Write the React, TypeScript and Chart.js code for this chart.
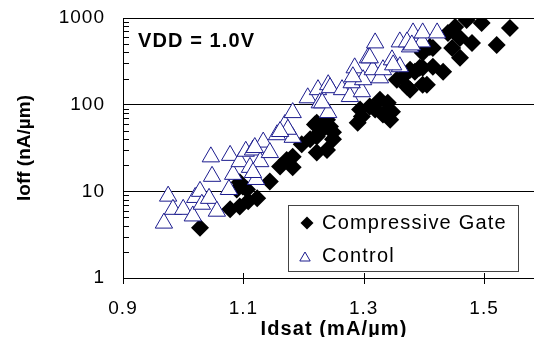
import React, { useEffect, useRef } from "react";
import { Chart, registerables } from "chart.js";

Chart.register(...registerables);

// ---- data ----
const idsatTicks = [0.9, 1.1, 1.3, 1.5];
const ioffTicks = [1, 10, 100, 1000];
const seriesNames = ["Compressive Gate", "Control"];
const annotationText = "VDD = 1.0V";
const xTitle = "Idsat (mA/µm)";
const yTitle = "Ioff (nA/µm)";

const compIdsat = [
  1.028, 1.078, 1.094, 1.108, 1.123, 1.089, 1.106, 1.094, 1.099, 1.144, 1.161, 1.182, 1.172, 1.182,
  1.197, 1.211, 1.222, 1.239, 1.249, 1.231, 1.222, 1.244, 1.219, 1.227, 1.222, 1.239, 1.249, 1.29,
  1.297, 1.294, 1.31, 1.319, 1.327, 1.332, 1.344, 1.34, 1.347, 1.355, 1.365, 1.377, 1.372, 1.385,
  1.393, 1.398, 1.41, 1.415, 1.398, 1.415, 1.432, 1.398, 1.377, 1.405, 1.44, 1.452, 1.46, 1.471,
  1.48, 1.496, 1.46, 1.521, 1.543, 1.447,
];
const compIoff = [
  3.8, 6.2, 6.7, 7.7, 8.3, 10.5, 10.5, 12.7, 11.4, 13, 19.4, 18.9, 23, 25,
  35, 40, 28, 30, 40, 52, 43, 56, 59, 48, 62, 67, 48, 62,
  73, 88, 95, 88, 114, 77, 67, 105, 83, 194, 210, 253, 161, 240,
  266, 396, 464, 452, 266, 274, 240, 170, 149, 170, 673, 788, 589, 948,
  516, 877, 347, 489, 767, 452,
];

const ctrlIdsat = [
  0.968, 0.975, 0.983, 1.0, 1.016, 1.02, 1.028, 1.031, 1.043, 1.056, 1.048, 1.046, 1.078, 1.076,
  1.083, 1.094, 1.104, 1.111, 1.116, 1.121, 1.128, 1.133, 1.144, 1.156, 1.182, 1.119, 1.169, 1.182,
  1.174, 1.207, 1.224, 1.227, 1.241, 1.244, 1.241, 1.264, 1.277, 1.297, 1.28, 1.285, 1.299, 1.315,
  1.327, 1.307, 1.319, 1.332, 1.347, 1.36, 1.377, 1.382, 1.397, 1.398, 1.422, 1.372, 1.38, 1.36,
  1.31, 1.349, 1.282, 1.231, 1.116, 1.161,
];
const ctrlIoff = [
  4.3, 8.8, 6.2, 6.2, 5.2, 8.5, 10, 7.1, 8.3, 5.9, 14.9, 25, 26, 10.5,
  15.7, 22, 29, 18.9, 30, 13.7, 22, 37, 28, 45, 42, 32, 59, 81,
  52, 120, 149, 105, 170, 157, 81, 149, 124, 141, 179, 266, 194, 253,
  204, 347, 516, 253, 329, 530, 464, 673, 530, 673, 673, 530, 489, 274,
  347, 288, 210, 105, 16.5, 49,
];

const FONT = "'Liberation Sans', Arial, Helvetica, sans-serif";
const NAVY = "#1c1c8e";

function toPoints(xs: number[], ys: number[]) {
  return xs.map((x, i) => ({ x, y: ys[i] }));
}

export default function App() {
  const ref = useRef<HTMLCanvasElement>(null);

  useEffect(() => {
    document.body.style.margin = "0";
    const canvas = ref.current;
    if (!canvas) return;

    const decor = {
      id: "decor",
      beforeDraw(chart: any) {
        chart.ctx.letterSpacing = "1px";
      },
      afterDatasetsDraw(chart: any) {
        const ctx = chart.ctx as CanvasRenderingContext2D;
        const { left, bottom } = chart.chartArea;
        const ys = chart.scales.y;
        const xs = chart.scales.x;
        ctx.save();
        ctx.strokeStyle = "#000";
        ctx.lineWidth = 1;
        ctx.beginPath();
        for (let d = 0; d < ioffTicks.length - 1; d++) {
          for (let m = 2; m <= 9; m++) {
            const py = Math.round(ys.getPixelForValue(ioffTicks[d] * m)) + 0.5;
            ctx.moveTo(left, py);
            ctx.lineTo(left + 6, py);
          }
        }
        idsatTicks.forEach((v) => {
          const px = Math.round(xs.getPixelForValue(v)) + 0.5;
          ctx.moveTo(px, bottom - 5);
          ctx.lineTo(px, bottom + 6);
        });
        ctx.stroke();
        ctx.restore();
      },
      afterDraw(chart: any) {
        const ctx = chart.ctx as CanvasRenderingContext2D;
        const { left } = chart.chartArea;
        ctx.save();
        ctx.fillStyle = "#000";
        ctx.letterSpacing = "1.1px";
        ctx.font = `bold 20px ${FONT}`;
        ctx.textAlign = "left";
        ctx.textBaseline = "alphabetic";
        ctx.fillText(annotationText, left + 15, 47);
        ctx.textAlign = "center";
        ctx.fillText(xTitle, 334, 335);
        ctx.letterSpacing = "0px";
        ctx.font = `bold 19px ${FONT}`;
        ctx.save();
        ctx.translate(30, 148);
        ctx.rotate(-Math.PI / 2);
        ctx.textAlign = "center";
        ctx.fillText(yTitle, 0, 0);
        ctx.restore();

        const bx = 288.5, by = 205.5, bw = 230, bh = 66;
        ctx.fillStyle = "#fff";
        ctx.fillRect(bx, by, bw, bh);
        ctx.strokeStyle = "#444";
        ctx.lineWidth = 1;
        ctx.strokeRect(bx, by, bw, bh);
        const dx = 307, dy = 223, dr = 6.5;
        ctx.fillStyle = "#000";
        ctx.beginPath();
        ctx.moveTo(dx - dr, dy);
        ctx.lineTo(dx, dy - dr);
        ctx.lineTo(dx + dr, dy);
        ctx.lineTo(dx, dy + dr);
        ctx.closePath();
        ctx.fill();
        const tx = 305, ty = 258, tr = 6;
        ctx.strokeStyle = NAVY;
        ctx.beginPath();
        ctx.moveTo(tx, ty - tr);
        ctx.lineTo(tx + tr * 0.866, ty + tr / 2);
        ctx.lineTo(tx - tr * 0.866, ty + tr / 2);
        ctx.closePath();
        ctx.stroke();
        ctx.fillStyle = "#000";
        ctx.font = `20px ${FONT}`;
        ctx.letterSpacing = "1.2px";
        ctx.textAlign = "left";
        ctx.textBaseline = "middle";
        ctx.fillText(seriesNames[0], 322, 223);
        ctx.fillText(seriesNames[1], 322, 256);
        ctx.restore();
      },
    };

    const chart = new Chart(canvas, {
      type: "scatter",
      data: {
        datasets: [
          {
            label: seriesNames[0],
            data: toPoints(compIdsat, compIoff),
            pointStyle: "rectRot",
            pointRadius: 9,
            backgroundColor: "#000",
            borderColor: "#000",
            borderWidth: 0,
            order: 1,
          },
          {
            label: seriesNames[1],
            data: toPoints(ctrlIdsat, ctrlIoff),
            pointStyle: "triangle",
            pointRadius: 10,
            backgroundColor: "#fff",
            borderColor: NAVY,
            borderWidth: 1,
            order: 0,
          },
        ],
      },
      options: {
        responsive: false,
        animation: false,
        devicePixelRatio: 1,
        events: [],
        layout: { autoPadding: false, padding: { top: 18, right: 0, left: 0, bottom: 0 } },
        plugins: { legend: { display: false }, tooltip: { enabled: false } },
        scales: {
          x: {
            type: "linear",
            min: 0.9,
            max: 1.583,
            afterBuildTicks: (s: any) => {
              s.ticks = idsatTicks.map((v) => ({ value: v }));
            },
            afterFit: (s: any) => {
              s.height = 59;
              s.paddingLeft = 0;
              s.paddingRight = 0;
              s.paddingTop = 0;
              s.paddingBottom = 0;
            },
            grid: { display: false, drawTicks: false },
            border: { display: true, color: "#000", width: 1 },
            ticks: {
              padding: 19,
              color: "#000",
              font: { family: FONT, size: 19 },
              maxRotation: 0,
              autoSkip: false,
              callback: (v: any) => Number(v).toFixed(1),
            },
          },
          y: {
            type: "logarithmic",
            min: 1,
            max: 1000,
            afterBuildTicks: (s: any) => {
              s.ticks = ioffTicks.map((v) => ({ value: v }));
            },
            afterFit: (s: any) => {
              s.width = 123;
              s.paddingLeft = 0;
              s.paddingRight = 0;
              s.paddingTop = 0;
              s.paddingBottom = 0;
            },
            grid: { color: "#000", lineWidth: 1, drawTicks: false },
            border: { display: true, color: "#000", width: 1 },
            ticks: {
              padding: 18,
              color: "#000",
              font: { family: FONT, size: 19 },
              autoSkip: false,
              callback: (v: any) => String(v),
            },
          },
        },
      },
      plugins: [decor],
    } as any);

    return () => chart.destroy();
  }, []);

  return <canvas ref={ref} width={534} height={337} style={{ display: "block" }} />;
}
